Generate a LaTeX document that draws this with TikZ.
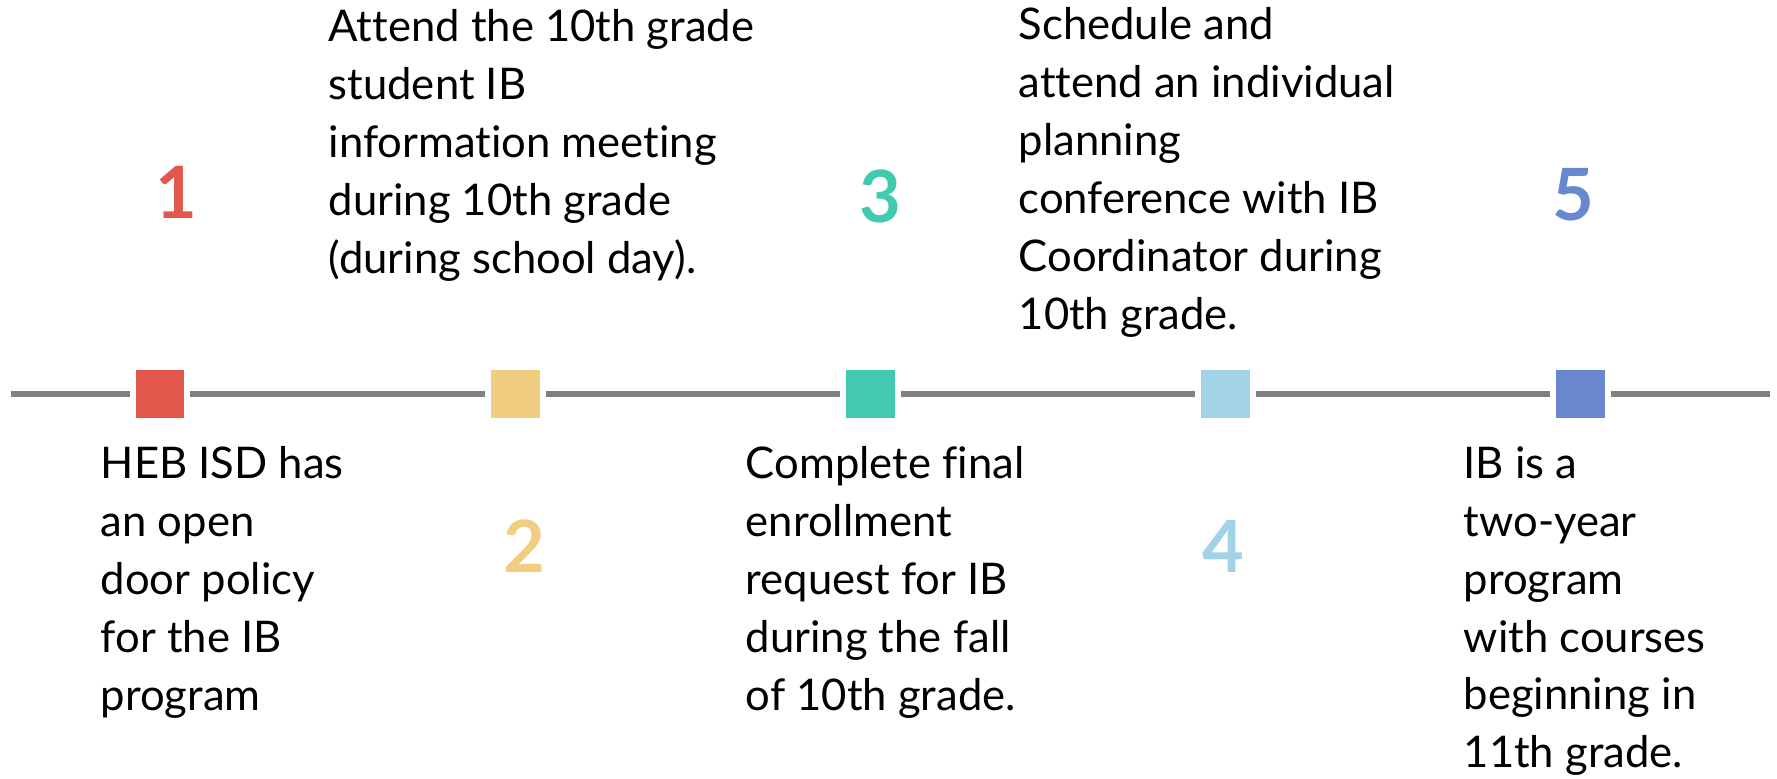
\documentclass[tikz,border=0pt]{standalone}
\usepackage{fontspec}
\setmainfont{Lato}[Ligatures={NoCommon}]
\usepackage{tikz}
\definecolor{ibred}{HTML}{E3564B}
\definecolor{ibyellow}{HTML}{F0CD80}
\definecolor{ibteal}{HTML}{42CAB1}
\definecolor{iblight}{HTML}{A2D2E6}
\definecolor{ibblue}{HTML}{6987CF}
\definecolor{lineg}{HTML}{808080}
\tikzstyle{stepsq} = [minimum size=4.87mm, inner sep=0pt, outer sep=0.6mm]
\tikzstyle{numlabel} = [font=\fontsize{20.5}{24}\selectfont\bfseries, inner sep=0pt]
\tikzstyle{desc} = [font=\fontsize{12.4}{16.45}\selectfont, align=left, inner sep=0pt, anchor=north west]
\tikzstyle{timeline} = [draw=lineg, line width=0.65mm]

\begin{document}
\begin{tikzpicture}[x=0.01cm, y=-0.01cm, node distance=3.55cm]
        \useasboundingbox (0,0) rectangle (1777,778);
        % squares on the line
        \path[] node[stepsq,fill=ibred] (sq1) at (160,394) {};
        \path[] node[stepsq,fill=ibyellow,right of=sq1] (sq2) {};
        \path[] node[stepsq,fill=ibteal,right of=sq2] (sq3) {};
        \path[] node[stepsq,fill=iblight,right of=sq3] (sq4) {};
        \path[] node[stepsq,fill=ibblue,right of=sq4] (sq5) {};
        \coordinate (lstart) at (11,394);
        \coordinate (lend) at (1770,394);
        \draw[timeline] (lstart) -- (sq1);
        \draw[timeline] (sq1) -- (sq2);
        \draw[timeline] (sq2) -- (sq3);
        \draw[timeline] (sq3) -- (sq4);
        \draw[timeline] (sq4) -- (sq5);
        \draw[timeline] (sq5) -- (lend);
        % step numbers
        \path[] node[numlabel,text=ibred] (n1) at (176,192) {1};
        \path[] node[numlabel,text=ibyellow] (n2) at (524,546) {2};
        \path[] node[numlabel,text=ibteal] (n3) at (880,196) {3};
        \path[] node[numlabel,text=iblight] (n4) at (1223,546) {4};
        \path[] node[numlabel,text=ibblue] (n5) at (1573,195) {5};
        % descriptions
        \path[] node[desc] (t1) at (100,446) {HEB ISD has\\an open\\door policy\\for the IB\\program};
        \path[] node[desc] (t2) at (328,9) {Attend the 10th grade\\student IB\\information meeting\\during 10th grade\\(during school day).};
        \path[] node[desc] (t3) at (745,446) {Complete final\\enrollment\\request for IB\\during the fall\\of 10th grade.};
        \path[] node[desc] (t4) at (1018,7) {Schedule and\\attend an individual\\planning\\conference with IB\\Coordinator during\\10th grade.};
        \path[] node[desc] (t5) at (1463,446) {IB is a\\two-year\\program\\with courses\\beginning in\\11th grade.};
\end{tikzpicture}
\end{document}
